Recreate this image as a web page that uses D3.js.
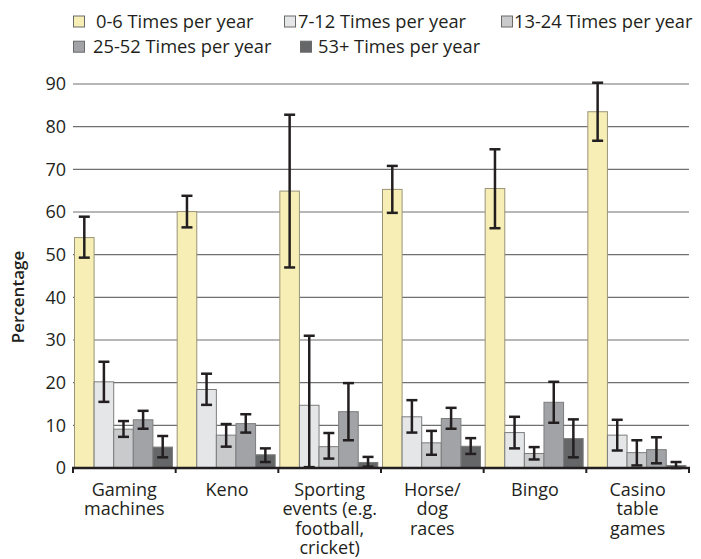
<!DOCTYPE html>
<html><head><meta charset="utf-8">
<script src="https://cdn.jsdelivr.net/npm/d3@7"></script>
<style>body{margin:0;background:#fff;} svg{display:block;font-family:"Open Sans",sans-serif;}</style>
</head><body><svg id="c" width="701" height="559"></svg>
<script>
const categories = ["Gaming machines","Keno","Sporting events (e.g. football, cricket)","Horse/ dog races","Bingo","Casino table games"];
const categoryLines = [["Gaming","machines"],["Keno"],["Sporting","events (e.g.","football,","cricket)"],["Horse/","dog","races"],["Bingo"],["Casino","table","games"]];
const seriesNames = ["0-6 Times per year","7-12 Times per year","13-24 Times per year","25-52 Times per year","53+ Times per year"];
const v06   = [54.0, 60.1, 64.9, 65.3, 65.5, 83.5];
const v712  = [20.2, 18.4, 14.7, 12.0, 8.3, 7.7];
const v1324 = [9.1, 7.7, 5.0, 5.9, 3.4, 3.6];
const v2552 = [11.3, 10.4, 13.2, 11.6, 15.4, 4.3];
const v53   = [4.9, 3.1, 1.3, 5.1, 6.9, 0.6];
const lo06   = [49.3, 56.4, 47.0, 59.8, 56.2, 76.7];
const hi06   = [58.9, 63.8, 82.8, 70.8, 74.7, 90.3];
const lo712  = [15.5, 14.8, 0.2, 8.3, 4.6, 4.1];
const hi712  = [24.9, 22.1, 31.0, 15.9, 12.0, 11.3];
const lo1324 = [7.3, 5.0, 2.2, 3.1, 2.0, 0.6];
const hi1324 = [11.0, 10.3, 8.2, 8.7, 4.9, 6.5];
const lo2552 = [9.2, 8.3, 6.5, 9.2, 10.6, 1.1];
const hi2552 = [13.4, 12.6, 19.9, 14.1, 20.2, 7.2];
const lo53   = [2.5, 1.4, 0.3, 3.3, 2.5, 0.0];
const hi53   = [7.5, 4.6, 2.6, 7.0, 11.4, 1.4];
const yTicks = [0,10,20,30,40,50,60,70,80,90];

const values = [v06, v712, v1324, v2552, v53];
const lows = [lo06, lo712, lo1324, lo2552, lo53];
const highs = [hi06, hi712, hi1324, hi2552, hi53];
const colors = ["#f6eeb4","#e5e6e7","#c9cacc","#a2a3a6","#656668"];

const svg = d3.select("#c");
const mLeft = 73, mRight = 689, mTop = 84, mBottom = 468;
const y = d3.scaleLinear().domain([0,90]).range([mBottom, mTop]);
const x0 = d3.scaleBand().domain(categories).range([mLeft, mRight]).paddingInner(0).paddingOuter(0);
const x1 = d3.scaleBand().domain(d3.range(5)).range([1.5, 99.5]).padding(0);

// grid
svg.append("g").selectAll("line").data(yTicks.filter(t=>t>0)).join("line")
  .attr("x1", mLeft).attr("x2", mRight).attr("y1", d=>y(d)).attr("y2", d=>y(d))
  .attr("stroke", "#707070").attr("stroke-width", 1.1);

// y labels
svg.append("g").selectAll("text").data(yTicks).join("text")
  .attr("x", 66).attr("y", d=>y(d)).attr("dy","0.35em").attr("text-anchor","end")
  .attr("font-size", 18).attr("fill","#231f20").text(d=>d);

svg.append("text").attr("transform",`translate(24,297) rotate(-90)`)
  .attr("text-anchor","middle").attr("font-size",17).attr("font-weight",600).attr("fill","#231f20").text("Percentage");

// bars
const groups = svg.append("g").selectAll("g").data(categories).join("g")
  .attr("transform", d=>`translate(${x0(d)},0)`);
groups.each(function(cat, ci){
  const g = d3.select(this);
  for (let s=0; s<5; s++){
    const v = values[s][ci];
    g.append("rect").attr("x", x1(s)).attr("width", x1.bandwidth())
      .attr("y", y(v)).attr("height", y(0)-y(v))
      .attr("fill", colors[s]).attr("stroke", s===0 ? "#9a9478" : "#7d7d7d").attr("stroke-width", 1);
  }
  for (let s=0; s<5; s++){
    const cx = x1(s) + x1.bandwidth()/2;
    const lo = lows[s][ci], hi = highs[s][ci];
    g.append("line").attr("x1",cx).attr("x2",cx).attr("y1",y(lo)).attr("y2",y(hi))
      .attr("stroke","#231f20").attr("stroke-width",2.5);
    [lo,hi].forEach(e=>{
      g.append("line").attr("x1",cx-5.5).attr("x2",cx+5.5).attr("y1",y(e)).attr("y2",y(e))
        .attr("stroke","#231f20").attr("stroke-width",2.5);
    });
  }
});

// x axis
svg.append("line").attr("x1",mLeft-1).attr("x2",mRight+1).attr("y1",mBottom).attr("y2",mBottom)
  .attr("stroke","#231f20").attr("stroke-width",2.5);
const tickXs = categories.map(c=>x0(c)).concat([mRight]);
svg.append("g").selectAll("line").data(tickXs).join("line")
  .attr("x1",d=>d).attr("x2",d=>d).attr("y1",mBottom).attr("y2",mBottom+5)
  .attr("stroke","#231f20").attr("stroke-width",2);

// x labels
categories.forEach((c,ci)=>{
  const cx = x0(c)+x0.bandwidth()/2;
  const t = svg.append("text").attr("x", cx).attr("y", 495.5)
    .attr("text-anchor","middle").attr("font-size",18).attr("fill","#231f20");
  categoryLines[ci].forEach((ln,li)=>{
    t.append("tspan").attr("x", cx).attr("y", 495.5 + li*19.5).text(ln);
  });
});

// legend
const legBox = [[73,21.5],[284,21.5],[501,21.5],[73,46.7],[300,46.7]];
const legText = [96, 298, 514, 93, 318];
seriesNames.forEach((n,i)=>{
  const [lx,ly] = legBox[i];
  svg.append("rect").attr("x",lx+0.5).attr("y",ly-5.5).attr("width",11).attr("height",11)
    .attr("fill",colors[i]).attr("stroke","#6a6a6a").attr("stroke-width",1);
  svg.append("text").attr("x",legText[i]).attr("y",ly).attr("dy","0.35em")
    .attr("font-size",18.3).attr("fill","#231f20").text(n);
});
</script></body></html>
